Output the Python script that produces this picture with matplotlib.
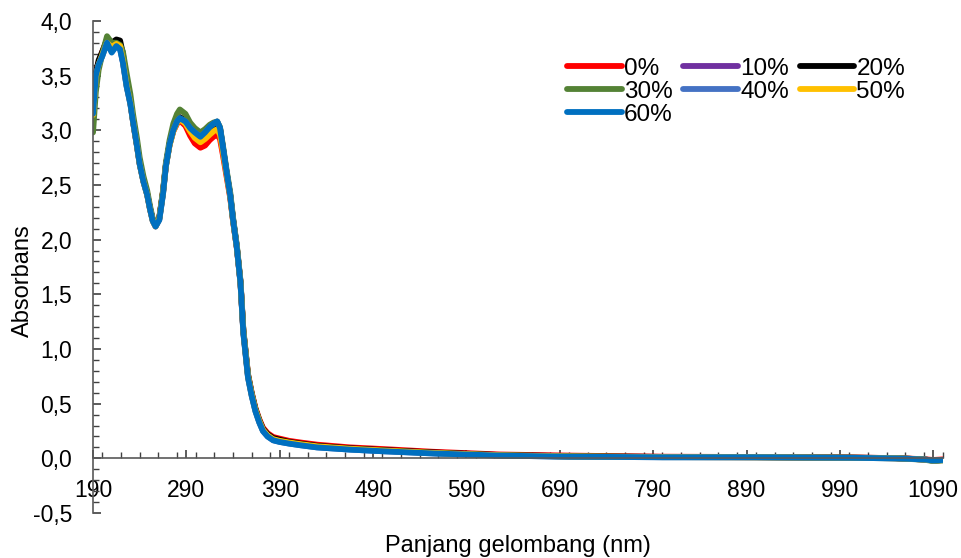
import numpy as np
import matplotlib
matplotlib.use('Agg')
import matplotlib.pyplot as plt
from matplotlib.ticker import MultipleLocator, FuncFormatter

plt.rcParams['font.family'] = ['Liberation Sans', 'DejaVu Sans']

# wavelength grid (nm)
wl = [190, 193, 196, 200, 205, 210, 215, 219, 222, 226,
      230, 233, 237, 240, 244, 248, 251, 254, 257, 261,
      265, 268, 272, 276, 280, 283, 289, 294, 299, 305,
      310, 315, 319, 323, 326, 329, 333, 337, 340, 344,
      348, 351, 356, 360, 364, 368, 372, 377, 383, 390,
      400, 412, 430, 465, 500, 554, 626, 700, 800, 900,
      1000, 1050, 1080, 1090, 1100]

abs_0 = [3.20, 3.52, 3.62, 3.72, 3.82, 3.78, 3.80, 3.78, 3.65, 3.42,
         3.26, 3.08, 2.87, 2.70, 2.54, 2.42, 2.29, 2.18, 2.13, 2.20,
         2.44, 2.68, 2.87, 2.99, 3.06, 3.09, 3.04, 2.95, 2.88, 2.84,
         2.86, 2.91, 2.94, 2.96, 2.92, 2.78, 2.58, 2.38, 2.17, 1.93,
         1.61, 1.17, 0.77, 0.60, 0.46, 0.36, 0.28, 0.23, 0.195, 0.18,
         0.16, 0.145, 0.125, 0.10, 0.085, 0.06, 0.035, 0.025, 0.015, 0.012,
         0.008, 0.002, -0.008, -0.015, -0.01]

abs_10 = [3.17, 3.50, 3.61, 3.70, 3.81, 3.74, 3.78, 3.76, 3.63, 3.41,
          3.25, 3.07, 2.86, 2.69, 2.53, 2.41, 2.28, 2.17, 2.12, 2.19,
          2.43, 2.67, 2.87, 3.00, 3.08, 3.11, 3.08, 3.01, 2.96, 2.92,
          2.96, 3.01, 3.04, 3.06, 3.01, 2.84, 2.61, 2.40, 2.18, 1.93,
          1.60, 1.16, 0.75, 0.58, 0.44, 0.34, 0.26, 0.21, 0.175, 0.16,
          0.145, 0.13, 0.11, 0.088, 0.072, 0.05, 0.028, 0.018, 0.012, 0.01,
          0.006, 0.001, -0.01, -0.02, -0.015]

abs_20 = [3.18, 3.52, 3.64, 3.72, 3.83, 3.80, 3.83, 3.82, 3.70, 3.44,
          3.26, 3.08, 2.87, 2.70, 2.54, 2.42, 2.29, 2.18, 2.14, 2.20,
          2.44, 2.68, 2.88, 3.01, 3.09, 3.12, 3.09, 3.02, 2.97, 2.93,
          2.97, 3.02, 3.05, 3.07, 3.02, 2.85, 2.62, 2.41, 2.19, 1.94,
          1.61, 1.17, 0.76, 0.59, 0.45, 0.35, 0.27, 0.22, 0.185, 0.17,
          0.15, 0.135, 0.115, 0.092, 0.076, 0.054, 0.03, 0.02, 0.013, 0.011,
          0.007, 0.002, -0.01, -0.02, -0.015]

abs_30 = [2.98, 3.35, 3.55, 3.70, 3.86, 3.80, 3.80, 3.78, 3.72, 3.52,
          3.33, 3.14, 2.93, 2.75, 2.58, 2.45, 2.31, 2.19, 2.13, 2.20,
          2.45, 2.70, 2.91, 3.06, 3.15, 3.19, 3.15, 3.07, 3.02, 2.98,
          3.01, 3.05, 3.07, 3.08, 3.03, 2.87, 2.64, 2.43, 2.20, 1.95,
          1.62, 1.18, 0.77, 0.59, 0.45, 0.35, 0.26, 0.21, 0.17, 0.155,
          0.14, 0.125, 0.105, 0.085, 0.07, 0.048, 0.027, 0.017, 0.011, 0.01,
          0.005, 0.0, -0.012, -0.025, -0.02]

abs_40 = [3.16, 3.50, 3.60, 3.68, 3.80, 3.72, 3.77, 3.74, 3.62, 3.40,
          3.24, 3.07, 2.86, 2.69, 2.53, 2.41, 2.28, 2.17, 2.12, 2.18,
          2.42, 2.67, 2.87, 3.00, 3.08, 3.11, 3.08, 3.02, 2.98, 2.94,
          2.98, 3.03, 3.06, 3.08, 3.02, 2.85, 2.62, 2.40, 2.18, 1.93,
          1.60, 1.15, 0.74, 0.57, 0.43, 0.33, 0.25, 0.20, 0.165, 0.15,
          0.135, 0.12, 0.10, 0.08, 0.065, 0.045, 0.025, 0.015, 0.01, 0.01,
          0.005, 0.0, -0.01, -0.02, -0.015]

abs_50 = [3.14, 3.48, 3.60, 3.69, 3.80, 3.76, 3.79, 3.77, 3.64, 3.41,
          3.25, 3.07, 2.86, 2.69, 2.53, 2.41, 2.28, 2.17, 2.12, 2.19,
          2.43, 2.67, 2.86, 2.99, 3.07, 3.10, 3.06, 2.99, 2.93, 2.89,
          2.92, 2.96, 2.99, 3.01, 2.96, 2.81, 2.60, 2.39, 2.17, 1.93,
          1.60, 1.16, 0.75, 0.58, 0.44, 0.34, 0.26, 0.21, 0.175, 0.16,
          0.145, 0.13, 0.11, 0.088, 0.072, 0.05, 0.028, 0.018, 0.012, 0.01,
          0.006, 0.001, -0.01, -0.02, -0.015]

abs_60 = [3.15, 3.50, 3.60, 3.68, 3.80, 3.71, 3.77, 3.74, 3.62, 3.40,
          3.24, 3.07, 2.86, 2.69, 2.53, 2.41, 2.28, 2.17, 2.12, 2.18,
          2.42, 2.67, 2.87, 3.00, 3.08, 3.11, 3.08, 3.02, 2.98, 2.94,
          2.98, 3.03, 3.06, 3.08, 3.02, 2.85, 2.62, 2.40, 2.18, 1.93,
          1.60, 1.15, 0.74, 0.57, 0.43, 0.33, 0.25, 0.20, 0.165, 0.15,
          0.135, 0.12, 0.10, 0.08, 0.065, 0.045, 0.025, 0.015, 0.01, 0.01,
          0.005, 0.0, -0.01, -0.02, -0.015]

labels = ['0%', '10%', '20%', '30%', '40%', '50%', '60%']
colors = ['#FF0000', '#7030A0', '#000000', '#548235', '#4472C4', '#FFC000', '#0070C0']
series = [abs_0, abs_10, abs_20, abs_30, abs_40, abs_50, abs_60]

fig = plt.figure(figsize=(9.61, 5.58), dpi=100)
ax = fig.add_axes([0.0968, 0.0806, 0.884, 0.882])

handles = []
for ys, c, lab in zip(series, colors, labels):
    h, = ax.plot(wl, ys, color=c, lw=4.2, label=lab, solid_capstyle='round',
                 solid_joinstyle='round')
    handles.append(h)

ax.set_xlim(190, 1100)
ax.set_ylim(-0.5, 4.0)

ax.spines['top'].set_visible(False)
ax.spines['right'].set_visible(False)
ax.spines['bottom'].set_position(('data', 0))
for s in ['left', 'bottom']:
    ax.spines[s].set_color('#595959')
    ax.spines[s].set_linewidth(1.2)

ax.xaxis.set_minor_locator(MultipleLocator(20))
ax.set_xticks(np.arange(190, 1091, 100))
ax.yaxis.set_major_locator(MultipleLocator(0.5))
ax.yaxis.set_minor_locator(MultipleLocator(0.1))
ax.yaxis.set_major_formatter(FuncFormatter(lambda v, p: ('%.1f' % v).replace('.', ',')))

ax.tick_params(which='major', direction='in', length=6, width=1.2, color='#404040', labelsize=16.5)
ax.tick_params(which='minor', direction='in', length=4, width=1.0, color='#404040')
ax.tick_params(axis='x', pad=15)
ax.tick_params(axis='y', pad=15)

ax.set_xlabel('Panjang gelombang (nm)', fontsize=17)
ax.xaxis.set_label_coords(0.5, -0.045)
ax.set_ylabel('Absorbans', fontsize=17)
ax.yaxis.set_label_coords(-0.07, 0.4715)

order = [0, 3, 6, 1, 4, 2, 5]
ax.legend([handles[i] for i in order], [labels[i] for i in order], ncol=3, frameon=False,
          fontsize=17.5, handlelength=2.25, handletextpad=0.08, columnspacing=0.45,
          labelspacing=0.04, loc='upper left', bbox_to_anchor=(0.558, 0.925),
          borderaxespad=0, borderpad=0)

fig.savefig('out.png', dpi=100)
